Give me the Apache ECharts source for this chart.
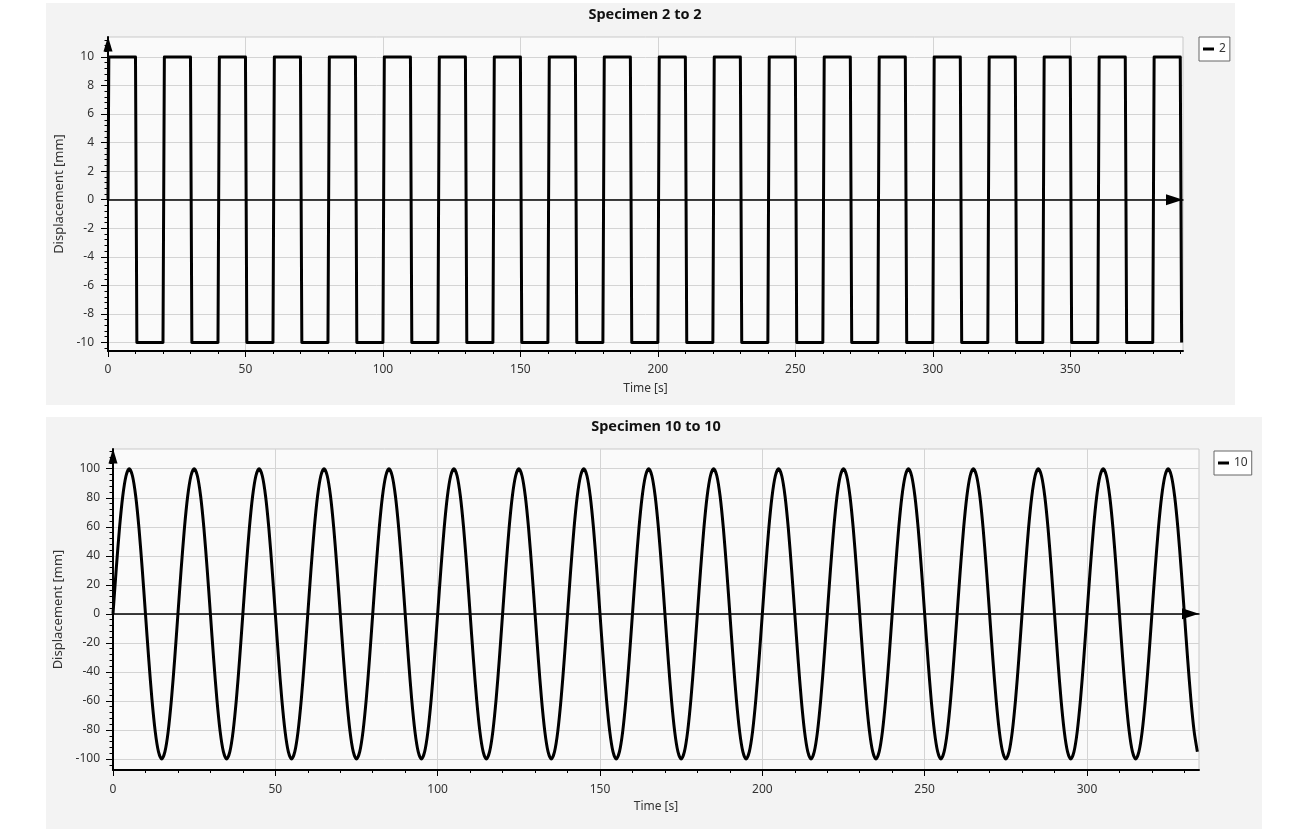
<!DOCTYPE html>
<html>
<head>
<meta charset="utf-8">
<script src="https://cdn.jsdelivr.net/npm/echarts@6/dist/echarts.min.js"></script>
<style>
  html, body { margin: 0; padding: 0; background: #ffffff; }
  #chart { width: 1289px; height: 829px; }
</style>
</head>
<body>
<div id="chart"></div>
<script>
// ---------- Data ----------
// Specimen 2: square wave, corner points [time s, displacement mm]
const squareWave = [
  [0, 0], [0.3, 10],
  [10, 10], [10.5, -10], [20, -10], [20.5, 10],
  [30, 10], [30.5, -10], [40, -10], [40.5, 10],
  [50, 10], [50.5, -10], [60, -10], [60.5, 10],
  [70, 10], [70.5, -10], [80, -10], [80.5, 10],
  [90, 10], [90.5, -10], [100, -10], [100.5, 10],
  [110, 10], [110.5, -10], [120, -10], [120.5, 10],
  [130, 10], [130.5, -10], [140, -10], [140.5, 10],
  [150, 10], [150.5, -10], [160, -10], [160.5, 10],
  [170, 10], [170.5, -10], [180, -10], [180.5, 10],
  [190, 10], [190.5, -10], [200, -10], [200.5, 10],
  [210, 10], [210.5, -10], [220, -10], [220.5, 10],
  [230, 10], [230.5, -10], [240, -10], [240.5, 10],
  [250, 10], [250.5, -10], [260, -10], [260.5, 10],
  [270, 10], [270.5, -10], [280, -10], [280.5, 10],
  [290, 10], [290.5, -10], [300, -10], [300.5, 10],
  [310, 10], [310.5, -10], [320, -10], [320.5, 10],
  [330, 10], [330.5, -10], [340, -10], [340.5, 10],
  [350, 10], [350.5, -10], [360, -10], [360.5, 10],
  [370, 10], [370.5, -10], [380, -10], [380.5, 10],
  [390, 10], [390.5, -10]
];

// Specimen 10: sine-like displacement sampled every second (mm)
const sineStep = 1; // s
const sineDisp = [
  0,31,59,81,95,100,95,81,59,31,0,-31,-59,-81,-95,-100,-95,-81,-59,-31,
  0,31,59,81,95,100,95,81,59,31,0,-31,-59,-81,-95,-100,-95,-81,-59,-31,
  0,31,59,81,95,100,95,81,59,31,0,-31,-59,-81,-95,-100,-95,-81,-59,-31,
  0,31,59,81,95,100,95,81,59,31,0,-31,-59,-81,-95,-100,-95,-81,-59,-31,
  0,31,59,81,95,100,95,81,59,31,0,-31,-59,-81,-95,-100,-95,-81,-59,-31,
  0,31,59,81,95,100,95,81,59,31,0,-31,-59,-81,-95,-100,-95,-81,-59,-31,
  0,31,59,81,95,100,95,81,59,31,0,-31,-59,-81,-95,-100,-95,-81,-59,-31,
  0,31,59,81,95,100,95,81,59,31,0,-31,-59,-81,-95,-100,-95,-81,-59,-31,
  0,31,59,81,95,100,95,81,59,31,0,-31,-59,-81,-95,-100,-95,-81,-59,-31,
  0,31,59,81,95,100,95,81,59,31,0,-31,-59,-81,-95,-100,-95,-81,-59,-31,
  0,31,59,81,95,100,95,81,59,31,0,-31,-59,-81,-95,-100,-95,-81,-59,-31,
  0,31,59,81,95,100,95,81,59,31,0,-31,-59,-81,-95,-100,-95,-81,-59,-31,
  0,31,59,81,95,100,95,81,59,31,0,-31,-59,-81,-95,-100,-95,-81,-59,-31,
  0,31,59,81,95,100,95,81,59,31,0,-31,-59,-81,-95,-100,-95,-81,-59,-31,
  0,31,59,81,95,100,95,81,59,31,0,-31,-59,-81,-95,-100,-95,-81,-59,-31,
  0,31,59,81,95,100,95,81,59,31,0,-31,-59,-81,-95,-100,-95,-81,-59,-31,
  0,31,59,81,95,100,95,81,59,31,0,-31,-59,-81,-95
];

// Axis ranges
const topXRange = [0, 391];
const topYRange = [-10.6, 11.4];
const botXRange = [0, 334.5];
const botYRange = [-107.6, 113.6];

// Tick values
const topXMajor = [0, 50, 100, 150, 200, 250, 300, 350];
const topXMinor = [10,20,30,40,60,70,80,90,110,120,130,140,160,170,180,190,210,220,230,240,260,270,280,290,310,320,330,340,360,370,380,390];
const topYMajor = [-10, -8, -6, -4, -2, 0, 2, 4, 6, 8, 10];
const topYMinor = [-10.4,-9.6,-9.2,-8.8,-8.4,-7.6,-7.2,-6.8,-6.4,-5.6,-5.2,-4.8,-4.4,-3.6,-3.2,-2.8,-2.4,-1.6,-1.2,-0.8,-0.4,0.4,0.8,1.2,1.6,2.4,2.8,3.2,3.6,4.4,4.8,5.2,5.6,6.4,6.8,7.2,7.6,8.4,8.8,9.2,9.6,10.4,10.8,11.2];
const botXMajor = [0, 50, 100, 150, 200, 250, 300];
const botXMinor = [10,20,30,40,60,70,80,90,110,120,130,140,160,170,180,190,210,220,230,240,260,270,280,290,310,320,330];
const botYMajor = [-100, -80, -60, -40, -20, 0, 20, 40, 60, 80, 100];
const botYMinor = [-104,-96,-92,-88,-84,-76,-72,-68,-64,-56,-52,-48,-44,-36,-32,-28,-24,-16,-12,-8,-4,4,8,12,16,24,28,32,36,44,48,52,56,64,68,72,76,84,88,92,96,104,108,112];

const titles = ['Specimen 2 to 2', 'Specimen 10 to 10'];
const seriesNames = ['2', '10'];
const xName = 'Time [s]';
const yName = 'Displacement [mm]';

// ---------- Chart ----------
const FONT = '"Noto Sans", "Open Sans", sans-serif';
const labelStyle = { color: '#333', fontSize: 12, fontFamily: FONT };
const gridLineColor = '#d4d4d4';

const sineData = sineDisp.map((v, i) => [i * sineStep, v]);

function mainX(gridIndex, range, major, gap, margin) {
  return {
    type: 'value', gridIndex, position: 'bottom', min: range[0], max: range[1],
    name: xName, nameLocation: 'middle', nameGap: gap,
    nameTextStyle: { color: '#333', fontSize: 12, fontFamily: FONT },
    axisLine: { show: true, onZero: false, lineStyle: { color: '#000', width: 2 } },
    axisTick: { show: true, customValues: major, length: 6, lineStyle: { color: '#000', width: 1 } },
    axisLabel: { show: true, customValues: major, margin, ...labelStyle },
    splitLine: { show: true, lineStyle: { color: gridLineColor, width: 1 } },
    minorTick: { show: false }
  };
}
function minorX(gridIndex, range, minor) {
  return {
    type: 'value', gridIndex, position: 'bottom', min: range[0], max: range[1],
    axisLine: { show: false, onZero: false },
    axisTick: { show: true, customValues: minor, length: 3, lineStyle: { color: '#000', width: 1 } },
    axisLabel: { show: false },
    splitLine: { show: false }
  };
}
function zeroX(gridIndex, range) {
  return {
    type: 'value', gridIndex, position: 'bottom', min: range[0], max: range[1],
    axisLine: {
      show: true, onZero: true,
      symbol: ['none', 'triangle'], symbolSize: [11, 17], symbolOffset: [0, -8.5],
      lineStyle: { color: '#000', width: 1.5 }
    },
    axisTick: { show: false }, axisLabel: { show: false }, splitLine: { show: false }
  };
}
function mainY(gridIndex, range, major, gap, margin) {
  return {
    type: 'value', gridIndex, position: 'left', min: range[0], max: range[1],
    name: yName, nameLocation: 'middle', nameGap: gap,
    nameTextStyle: { color: '#333', fontSize: 13, fontFamily: FONT },
    axisLine: {
      show: true, onZero: false,
      symbol: ['none', 'triangle'], symbolSize: [9, 15], symbolOffset: [0, -7],
      lineStyle: { color: '#000', width: 2 }
    },
    axisTick: { show: true, customValues: major, length: 7, lineStyle: { color: '#000', width: 1 } },
    axisLabel: { show: true, customValues: major, margin, ...labelStyle },
    splitLine: { show: true, lineStyle: { color: gridLineColor, width: 1 } },
    minorTick: { show: false }
  };
}
function minorY(gridIndex, range, minor) {
  return {
    type: 'value', gridIndex, position: 'left', min: range[0], max: range[1],
    axisLine: { show: false, onZero: false },
    axisTick: { show: true, customValues: minor, length: 3.5, lineStyle: { color: '#000', width: 1 } },
    axisLabel: { show: false },
    splitLine: { show: false }
  };
}

const legendCommon = {
  orient: 'horizontal', icon: 'rect', itemWidth: 11, itemHeight: 3,
  padding: [5, 4, 5, 4], borderColor: '#666', borderWidth: 1, borderRadius: 0,
  backgroundColor: '#ffffff',
  textStyle: { color: '#333', fontSize: 12, fontFamily: FONT, lineHeight: 14 },
  selectedMode: false
};

const option = {
  animation: false,
  backgroundColor: '#ffffff',
  graphic: [
    { type: 'rect', z: -100, silent: true, shape: { x: 46, y: 3, width: 1189, height: 402 }, style: { fill: '#f3f3f3' } },
    { type: 'rect', z: -100, silent: true, shape: { x: 46, y: 417, width: 1216, height: 412 }, style: { fill: '#f3f3f3' } },
    { type: 'text', z: 10, style: { text: titles[0], x: 645, y: 15, textAlign: 'center', textVerticalAlign: 'middle', font: 'bold 14.5px ' + FONT, fill: '#111' } },
    { type: 'text', z: 10, style: { text: titles[1], x: 656, y: 427, textAlign: 'center', textVerticalAlign: 'middle', font: 'bold 14.5px ' + FONT, fill: '#111' } }
  ],
  legend: [
    { ...legendCommon, data: [seriesNames[0]], left: 1199, top: 37 },
    { ...legendCommon, data: [seriesNames[1]], left: 1214, top: 451 }
  ],
  grid: [
    { left: 108, top: 37, width: 1075, height: 314, show: true, backgroundColor: '#fafafa', borderColor: '#c9c9c9', borderWidth: 1, containLabel: false },
    { left: 113, top: 449, width: 1086, height: 321, show: true, backgroundColor: '#fafafa', borderColor: '#c9c9c9', borderWidth: 1, containLabel: false }
  ],
  xAxis: [
    mainX(0, topXRange, topXMajor, 32, 13),
    minorX(0, topXRange, topXMinor),
    zeroX(0, topXRange),
    mainX(1, botXRange, botXMajor, 31, 14),
    minorX(1, botXRange, botXMinor),
    zeroX(1, botXRange)
  ],
  yAxis: [
    mainY(0, topYRange, topYMajor, 39, 14),
    minorY(0, topYRange, topYMinor),
    mainY(1, botYRange, botYMajor, 44, 13),
    minorY(1, botYRange, botYMinor)
  ],
  series: [
    {
      name: seriesNames[0], type: 'line', xAxisIndex: 0, yAxisIndex: 0,
      data: squareWave, showSymbol: false, symbol: 'none', z: 3,
      itemStyle: { color: '#000' },
      lineStyle: { color: '#000', width: 3, join: 'round' }
    },
    {
      name: seriesNames[1], type: 'line', xAxisIndex: 3, yAxisIndex: 2,
      data: sineData, showSymbol: false, symbol: 'none', smooth: 0.3, z: 3,
      itemStyle: { color: '#000' },
      lineStyle: { color: '#000', width: 3, join: 'round' }
    }
  ]
};

const chart = echarts.init(document.getElementById('chart'), null, { renderer: 'canvas' });
chart.setOption(option);
</script>
</body>
</html>
